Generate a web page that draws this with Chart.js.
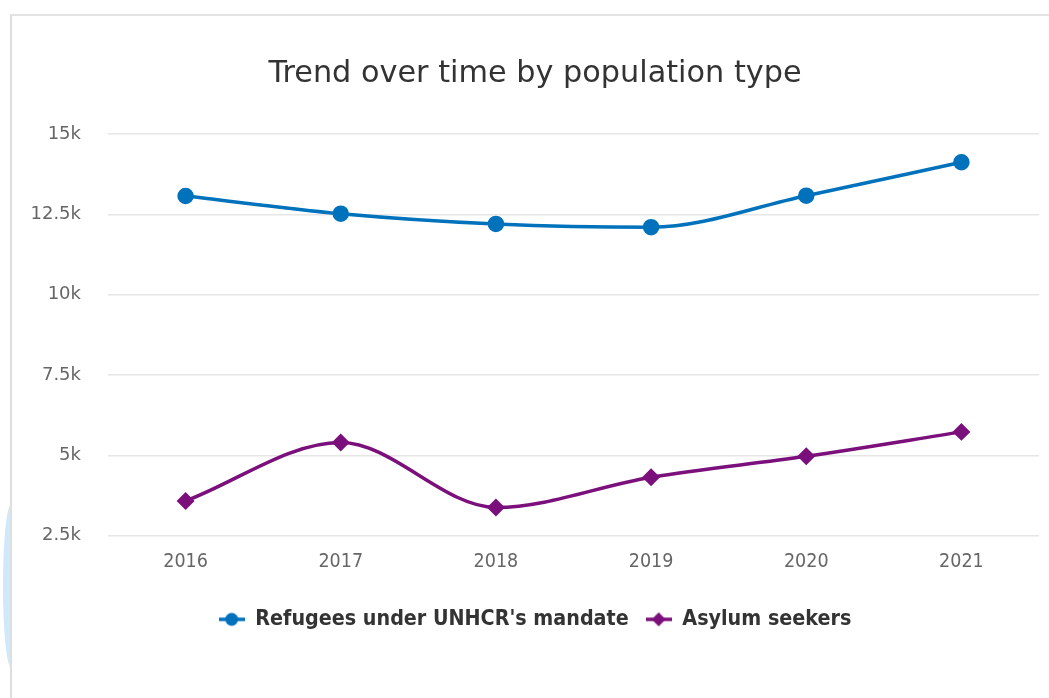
<!DOCTYPE html>
<html>
<head>
<meta charset="utf-8">
<script src="https://cdn.jsdelivr.net/npm/chart.js@4.4.0/dist/chart.umd.min.js"></script>
<style>
  html, body { margin: 0; padding: 0; background: #fff; width: 1049px; height: 698px; overflow: hidden; position: relative; }
  #blob { position: absolute; left: 3px; top: 505px; width: 16px; height: 162px; border-radius: 50%; background: #cfe9fb; }
  #panel { position: absolute; left: 10px; top: 14px; width: 1060px; height: 700px; background: #fff;
           border-left: 2px solid #dedede; border-top: 2px solid #e3e3e3; }
  #wrap { position: absolute; left: 12px; top: 16px; width: 1037px; height: 682px; }
</style>
</head>
<body>
<div id="blob"></div>
<div id="panel"></div>
<div id="wrap"><canvas id="trendChart"></canvas></div>
<script>
// Datos
const years = ["2016", "2017", "2018", "2019", "2020", "2021"];
const refugees = [13070, 12520, 12200, 12100, 13080, 14120];
const asylumSeekers = [3580, 5400, 3380, 4320, 4970, 5730];
const yTicks = [2500, 5000, 7500, 10000, 12500, 15000];

const BLUE = "#0072bc";
const PURPLE = "#7b0f7b";

// Marcador de leyenda: línea con símbolo al centro
function legendMark(color, shape) {
  const c = document.createElement("canvas");
  c.width = 26;
  c.height = 16;
  const g = c.getContext("2d");
  g.strokeStyle = color;
  g.lineWidth = 3.5;
  g.beginPath();
  g.moveTo(0, 8);
  g.lineTo(26, 8);
  g.stroke();
  g.fillStyle = color;
  g.beginPath();
  if (shape === "circle") {
    g.arc(13, 8, 6.5, 0, Math.PI * 2);
  } else {
    g.moveTo(13, 1);
    g.lineTo(20, 8);
    g.lineTo(13, 15);
    g.lineTo(6, 8);
    g.closePath();
  }
  g.fill();
  return c;
}

const marks = [legendMark(BLUE, "circle"), legendMark(PURPLE, "diamond")];

new Chart(document.getElementById("trendChart"), {
  type: "line",
  data: {
    labels: years,
    datasets: [
      {
        label: "Refugees under UNHCR's mandate",
        data: refugees,
        borderColor: BLUE,
        backgroundColor: BLUE,
        borderWidth: 3.5,
        pointStyle: "circle",
        pointRadius: 6.5,
        pointHoverRadius: 6.5,
        cubicInterpolationMode: "monotone",
      },
      {
        label: "Asylum seekers",
        data: asylumSeekers,
        borderColor: PURPLE,
        backgroundColor: PURPLE,
        borderWidth: 3.5,
        pointStyle: "rectRot",
        pointRadius: 6.5,
        pointHoverRadius: 6.5,
        cubicInterpolationMode: "monotone",
      },
    ],
  },
  options: {
    responsive: true,
    maintainAspectRatio: false,
    animation: false,
    layout: { padding: { left: 16, right: 7, top: 0, bottom: 58 } },
    plugins: {
      tooltip: { enabled: false },
      title: {
        display: true,
        text: "Trend over time by population type",
        color: "#333",
        font: { family: "DejaVu Sans", size: 30.3, weight: "normal" },
        padding: { top: 40, bottom: 41.6 },
      },
      legend: {
        position: "bottom",
        labels: {
          usePointStyle: true,
          pointStyleWidth: 26,
          padding: 17,
          color: "#333",
          font: { family: "DejaVu Sans Condensed", size: 21.3, weight: "bold" },
          generateLabels: (chart) =>
            chart.data.datasets.map((ds, i) => ({
              text: ds.label,
              fillStyle: ds.borderColor,
              strokeStyle: ds.borderColor,
              lineWidth: 0,
              pointStyle: marks[i],
              fontColor: "#333",
              hidden: false,
              datasetIndex: i,
            })),
        },
      },
    },
    scales: {
      x: {
        offset: true,
        grid: { display: false, drawTicks: false },
        border: { display: false },
        ticks: {
          color: "#666",
          padding: 15,
          font: { family: "DejaVu Sans Condensed", size: 19.5 },
        },
        afterFit: (s) => { s.height = 56; },
      },
      y: {
        min: 2500,
        max: 15000,
        afterBuildTicks: (s) => { s.ticks = yTicks.map((v) => ({ value: v })); },
        grid: { color: "#e6e6e6", lineWidth: 1.5, drawTicks: false },
        border: { display: false },
        ticks: {
          color: "#666",
          padding: 27,
          font: { family: "DejaVu Sans", size: 18 },
          callback: (v) => v / 1000 + "k",
        },
        afterFit: (s) => { s.width = 80; },
      },
    },
  },
});
</script>
</body>
</html>
